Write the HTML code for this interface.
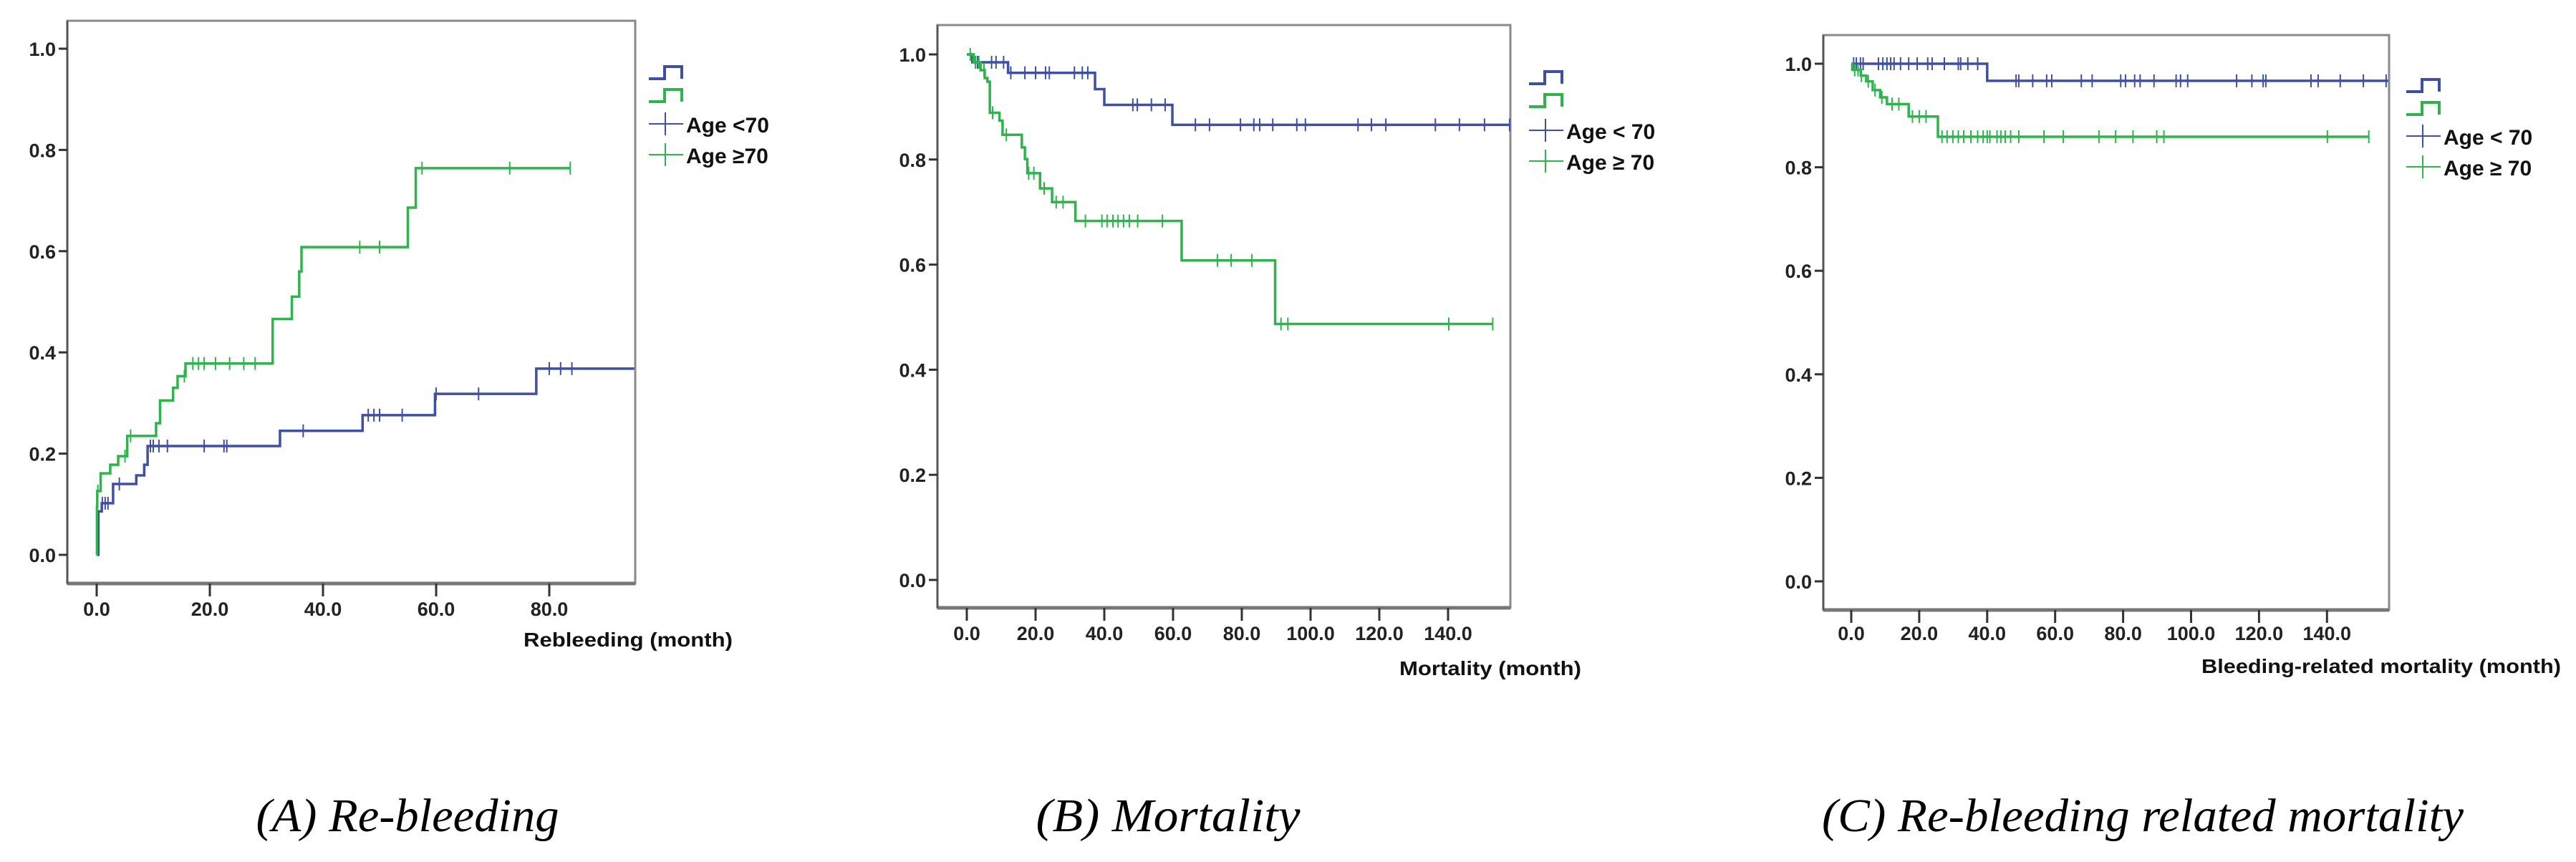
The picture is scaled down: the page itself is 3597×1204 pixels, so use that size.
<!DOCTYPE html>
<html><head><meta charset="utf-8">
<style>
html,body{margin:0;padding:0;background:#fff;}
svg{display:block;}
.tk{font-family:"Liberation Sans",sans-serif;font-weight:bold;font-size:27px;fill:#222;}
.lg{font-family:"Liberation Sans",sans-serif;font-weight:bold;font-size:30px;fill:#111;}
.ti{font-family:"Liberation Sans",sans-serif;font-weight:bold;font-size:28px;fill:#111;}
.cap{font-family:"Liberation Serif",serif;font-style:italic;font-size:66px;fill:#000;}
</style></head>
<body>
<svg id="fig" width="3597" height="1204" viewBox="0 0 3597 1204" xmlns="http://www.w3.org/2000/svg"></svg>
<script>
// ---- Panel A: Re-bleeding (cumulative incidence) ----
const aBlueT = [0, 0.3, 0.9, 2.9, 7, 8.4, 9.0, 32.4, 47, 59.8, 77.7];
const aBlueV = [0, 0.086, 0.102, 0.14, 0.157, 0.178, 0.215, 0.245, 0.276, 0.318, 0.368];
const aBlueEnd = 95;
const aBlueCens = [1, 1.5, 2, 4, 9.5, 10, 11, 12.5, 19, 22.5, 23, 36.5, 48, 49, 50, 54, 60, 67.5, 80, 82, 84];
const aGreenT = [0, 0.05, 0.1, 0.7, 2.4, 3.8, 5.4, 10.5, 11.2, 13.5, 14.3, 15.7, 31.1, 34.5, 35.8, 36.2, 55, 56.4];
const aGreenV = [0, 0.096, 0.126, 0.161, 0.178, 0.195, 0.235, 0.26, 0.305, 0.33, 0.353, 0.378, 0.466, 0.51, 0.56, 0.608, 0.686, 0.764];
const aGreenEnd = 83.7;
const aGreenCens = [0.2, 5, 6, 15.5, 17, 18, 19, 21, 23.5, 26, 28, 46.5, 50, 57.5, 73, 83.7];
const aXTicks = ["0.0", "20.0", "40.0", "60.0", "80.0"];
const aYTicks = ["0.0", "0.2", "0.4", "0.6", "0.8", "1.0"];

// ---- Panel B: Mortality (survival) ----
const bBlueT = [0, 1.6, 12, 37.3, 40, 59.8];
const bBlueV = [1, 0.985, 0.965, 0.934, 0.904, 0.866];
const bBlueEnd = 158;
const bBlueCens = [3.1, 7.2, 8.5, 10.7, 12.8, 16.9, 20, 22.9, 24, 31.3, 33.6, 35.2, 48.3, 49.6, 53.7, 57.7, 66.5, 70.6, 79.6, 83.5, 85.2, 89, 96, 98.5, 113.8, 117.7, 121.9, 136.3, 143.3, 150.6, 157.9];
const bGreenT = [0, 2, 4, 5.2, 6, 6.7, 9.5, 10.4, 16, 16.9, 17.6, 21.3, 24.8, 31.6, 62.5, 89.7];
const bGreenV = [1, 0.985, 0.97, 0.955, 0.948, 0.889, 0.874, 0.847, 0.823, 0.801, 0.774, 0.745, 0.719, 0.683, 0.608, 0.487];
const bGreenEnd = 153;
const bGreenCens = [1, 2.5, 3.5, 5, 7.5, 11.5, 18, 19.5, 22.5, 26, 28, 34.5, 39.3, 40.8, 42.5, 44, 45.6, 47.3, 49.7, 56.9, 72.9, 76.9, 82.9, 91.4, 93.4, 140.2, 153];
const bXTicks = ["0.0", "20.0", "40.0", "60.0", "80.0", "100.0", "120.0", "140.0"];
const bYTicks = ["0.0", "0.2", "0.4", "0.6", "0.8", "1.0"];

// ---- Panel C: Bleeding-related mortality ----
const cBlueT = [0, 40];
const cBlueV = [1, 0.967];
const cBlueEnd = 158;
const cBlueCens = [0.7, 1.5, 2.7, 3.5, 8, 9.3, 10.5, 11.6, 12.6, 14.5, 16.9, 19.4, 22.5, 23.8, 27.4, 31.5, 32.2, 34.3, 37.2, 48.5, 49.3, 53.4, 57.5, 59, 67.7, 70.9, 79.3, 80.7, 83.4, 85, 89.1, 95.6, 96.9, 99, 113.4, 117.9, 121.2, 122, 135.3, 137.4, 143.9, 150.7, 157.4];
const cGreenT = [0, 0.3, 2.8, 4.4, 6.3, 8.5, 10.5, 16.9, 25.5];
const cGreenV = [1, 0.988, 0.977, 0.966, 0.949, 0.935, 0.922, 0.898, 0.859];
const cGreenEnd = 152.3;
const cGreenCens = [1, 2, 3, 5, 7, 9, 12, 14, 18, 20, 22, 26.7, 28.2, 29.9, 31.5, 33.1, 35.2, 37.2, 38.8, 40, 40.8, 42.9, 44, 45.3, 46.9, 49.3, 56.7, 62.4, 72.9, 77.8, 82.9, 89.9, 92, 140.1, 152.3];
const cXTicks = ["0.0", "20.0", "40.0", "60.0", "80.0", "100.0", "120.0", "140.0"];
const cYTicks = ["0.0", "0.2", "0.4", "0.6", "0.8", "1.0"];

const BLUE = "#3F4FA3", GREEN = "#2EB34D";
const NS = "http://www.w3.org/2000/svg";
const svg = document.getElementById("fig");
function mk(tag, attrs, parent, text) {
  const e = document.createElementNS(NS, tag);
  for (const k in attrs) e.setAttribute(k, attrs[k]);
  if (text !== undefined) e.textContent = text;
  (parent || svg).appendChild(e);
  return e;
}
function stepAt(T, V, t) { let v = V[0]; for (let i = 0; i < T.length; i++) if (T[i] <= t) v = V[i]; return v; }

function panel(p) {
  const g = mk("g", {});
  
  
  const X = t => p.x0 + t * p.xs;
  const Y = v => p.y0 - v * p.ys;
  // frame
  const fr = mk("rect", {x: p.L, y: p.T, width: p.R - p.L, height: p.B - p.T, fill: "none", stroke: "#8a8a8a", "stroke-width": 3}, g);
  
  
  const ax = mk("line", {x1: p.L, x2: p.R, y1: p.B, y2: p.B, stroke: "#777", "stroke-width": 5}, g);
  
  
  const yl = mk("line", {x1: p.L, x2: p.L, y1: p.T, y2: p.B, stroke: "#555", "stroke-width": 3}, g);
  
  
  // y ticks
  p.yt.forEach((lab, i) => {
    const v = parseFloat(lab), y = Y(v);
    const tl = mk("line", {x1: p.L - 12, x2: p.L, y1: y, y2: y, stroke: "#333", "stroke-width": 3}, g);
    
    
    const tx = mk("text", {x: p.L - 16, y: y + 10, "text-anchor": "end", class: "tk"}, g, lab);
    
    
  });
  // x ticks
  p.xt.forEach((lab, i) => {
    const x = X(parseFloat(lab));
    const tl = mk("line", {x1: x, x2: x, y1: p.B, y2: p.B + 18, stroke: "#333", "stroke-width": 3}, g);
    
    
    const tx = mk("text", {x: x, y: p.tly, "text-anchor": "middle", class: "tk"}, g, lab);
    
    
  });
  // axis title
  const at = mk("text", {x: p.titleX, y: p.titleY, "text-anchor": "middle", class: "ti", textLength: p.titleW, lengthAdjust: "spacingAndGlyphs"}, g, p.title);
  
  
  // series
  p.series.forEach(s => {
    let d = "M" + X(s.T[0]) + "," + Y(s.V[0]);
    for (let i = 1; i < s.T.length; i++) d += " H" + X(s.T[i]) + " V" + Y(s.V[i]);
    d += " H" + X(s.end);
    const pa = mk("path", {d: d, fill: "none", stroke: s.color, "stroke-width": 3.5}, g);
    
    
    s.cens.forEach(t => {
      const x = X(t), y = Y(stepAt(s.T, s.V, t));
      const c = mk("line", {x1: x, x2: x, y1: y - 9, y2: y + 9, stroke: s.color, "stroke-width": 2}, g);
      
      
    });
  });
  // legend
  const lx = p.leg.x, ly = p.leg.y;
  [BLUE, GREEN].forEach((col, i) => {
    const y0 = ly + i * 32;
    const ic = mk("path", {d: `M${lx},${y0 + 17} H${lx + 22} V${y0} H${lx + 46} V${y0 + 17}`, fill: "none", stroke: col, "stroke-width": 4}, g);
    
    
  });
  p.leg.labels.forEach((lab, i) => {
    const col = i === 0 ? BLUE : GREEN;
    const cy = p.leg.cy + i * 43;
    const h = mk("line", {x1: lx, x2: lx + 48, y1: cy, y2: cy, stroke: col, "stroke-width": 2}, g);
    
    
    const v = mk("line", {x1: lx + 23, x2: lx + 23, y1: cy - 16, y2: cy + 16, stroke: col, "stroke-width": 2}, g);
    
    
    const t = mk("text", {x: lx + 52, y: cy + 12, class: "lg"}, g, lab);
    
    
  });
  // caption
  const cp = mk("text", {x: p.capX, y: 1161, "text-anchor": "middle", class: "cap", textLength: p.capW, lengthAdjust: "spacingAndGlyphs"}, g, p.cap);
  
  
}

panel({name: "panel-a-rebleeding", L: 94, R: 887, T: 29, B: 815, x0: 135, xs: 7.9, y0: 775, ys: 707,
  xt: aXTicks, yt: aYTicks, tly: 860, title: "Rebleeding (month)", titleX: 877, titleY: 903, titleW: 292,
  series: [{key: "age-under-70", color: BLUE, T: aBlueT, V: aBlueV, end: aBlueEnd, cens: aBlueCens},
           {key: "age-70-plus", color: GREEN, T: aGreenT, V: aGreenV, end: aGreenEnd, cens: aGreenCens}],
  leg: {x: 906, y: 93, cy: 173, labels: ["Age <70", "Age \u226570"]},
  cap: "(A) Re-bleeding", capX: 569, capW: 423});

panel({name: "panel-b-mortality", L: 1309, R: 2109, T: 35, B: 849, x0: 1350, xs: 4.8, y0: 810, ys: 734,
  xt: bXTicks, yt: bYTicks, tly: 894, title: "Mortality (month)", titleX: 2081, titleY: 943, titleW: 254,
  series: [{key: "age-under-70", color: BLUE, T: bBlueT, V: bBlueV, end: bBlueEnd, cens: bBlueCens},
           {key: "age-70-plus", color: GREEN, T: bGreenT, V: bGreenV, end: bGreenEnd, cens: bGreenCens}],
  leg: {x: 2135, y: 100, cy: 182, labels: ["Age < 70", "Age \u2265 70"]},
  cap: "(B) Mortality", capX: 1631, capW: 369});

panel({name: "panel-c-bleeding-mortality", L: 2546, R: 3336, T: 49, B: 852, x0: 2585, xs: 4.745, y0: 812, ys: 723,
  xt: cXTicks, yt: cYTicks, tly: 894, title: "Bleeding-related mortality (month)", titleX: 3325, titleY: 940, titleW: 502,
  series: [{key: "age-under-70", color: BLUE, T: cBlueT, V: cBlueV, end: cBlueEnd, cens: cBlueCens},
           {key: "age-70-plus", color: GREEN, T: cGreenT, V: cGreenV, end: cGreenEnd, cens: cGreenCens}],
  leg: {x: 3360, y: 111, cy: 190, labels: ["Age < 70", "Age \u2265 70"]},
  cap: "(C) Re-bleeding related mortality", capX: 2992, capW: 896});
</script>
</body></html>
